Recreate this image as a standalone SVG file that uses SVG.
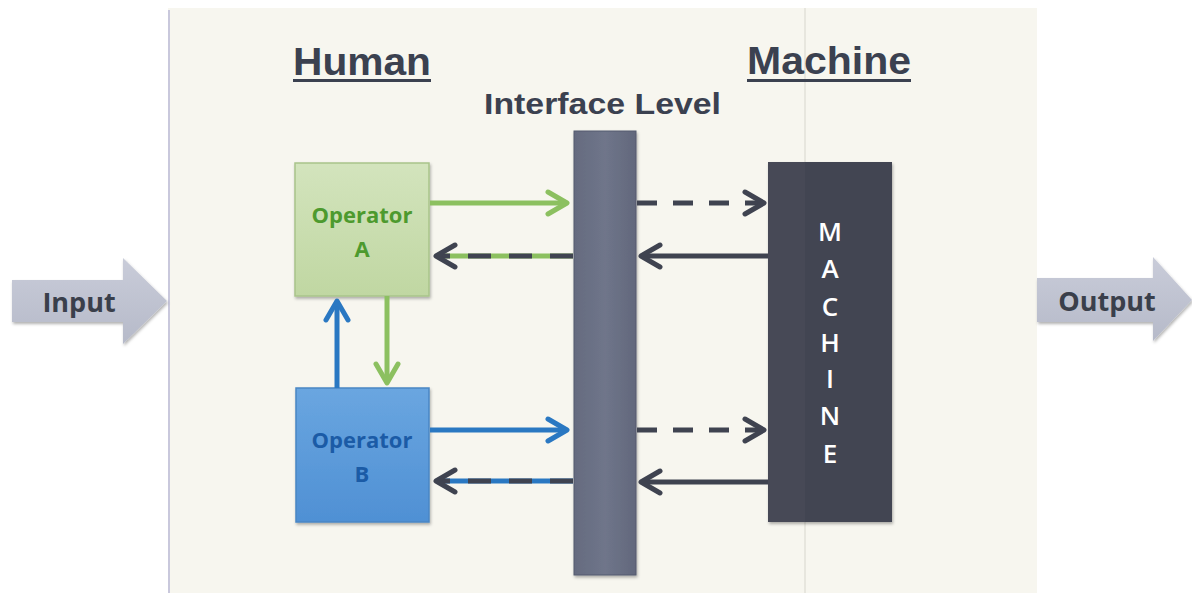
<svg xmlns="http://www.w3.org/2000/svg" width="1192" height="595" viewBox="0 0 1192 595">
  <style>
    .hdr { font-family: "Liberation Sans", Arial, sans-serif; font-weight: bold; fill: #3b4150; }
    .op { font-family: "Open Sans", "Noto Sans", sans-serif; font-weight: bold; font-size: 22px; text-anchor: middle; }
    .io { font-family: "Open Sans", "Noto Sans", sans-serif; font-weight: bold; font-size: 27px; fill: #3a3f4b; text-anchor: middle; }
    .mach { font-family: "Open Sans", "Noto Sans", sans-serif; font-weight: 600; font-size: 26px; fill: #ffffff; text-anchor: middle; }
    .ln { fill: none; stroke-width: 5; }
    .green { stroke: #8cc060; }
    .blue { stroke: #2a78c2; }
    .dark { stroke: #3f4350; }
  </style>
  <defs>
    <linearGradient id="gA" x1="0" y1="0" x2="0" y2="1">
      <stop offset="0" stop-color="#d3e4bd"/>
      <stop offset="1" stop-color="#c0d7a2"/>
    </linearGradient>
    <linearGradient id="gB" x1="0" y1="0" x2="0" y2="1">
      <stop offset="0" stop-color="#6aa6e0"/>
      <stop offset="1" stop-color="#4f90d4"/>
    </linearGradient>
    <linearGradient id="gBar" x1="0" y1="0" x2="1" y2="0">
      <stop offset="0" stop-color="#656b7f"/>
      <stop offset="0.5" stop-color="#6f758a"/>
      <stop offset="1" stop-color="#62687c"/>
    </linearGradient>
    <linearGradient id="gIO" x1="0" y1="0" x2="0" y2="1">
      <stop offset="0" stop-color="#c9ccd9"/>
      <stop offset="1" stop-color="#b6bac9"/>
    </linearGradient>
    <filter id="sh" x="-10%" y="-10%" width="130%" height="130%">
      <feDropShadow dx="1" dy="2" stdDeviation="1.5" flood-color="#000000" flood-opacity="0.3"/>
    </filter>
    <marker id="mGreen" viewBox="-24 -14 28 28" refX="0" refY="0" markerWidth="28" markerHeight="28" markerUnits="userSpaceOnUse" orient="auto">
      <path d="M-19,-11 L0,0 L-19,11" fill="none" stroke="#8cc060" stroke-width="5" stroke-linecap="round" stroke-linejoin="round"/>
    </marker>
    <marker id="mBlue" viewBox="-24 -14 28 28" refX="0" refY="0" markerWidth="28" markerHeight="28" markerUnits="userSpaceOnUse" orient="auto">
      <path d="M-19,-11 L0,0 L-19,11" fill="none" stroke="#2a78c2" stroke-width="5" stroke-linecap="round" stroke-linejoin="round"/>
    </marker>
    <marker id="mDark" viewBox="-24 -14 28 28" refX="0" refY="0" markerWidth="28" markerHeight="28" markerUnits="userSpaceOnUse" orient="auto">
      <path d="M-19,-11 L0,0 L-19,11" fill="none" stroke="#3f4350" stroke-width="5" stroke-linecap="round" stroke-linejoin="round"/>
    </marker>
  </defs>

  <!-- page -->
  <rect x="0" y="0" width="1192" height="595" fill="#ffffff"/>
  <rect x="168" y="8" width="869" height="585" fill="#f7f6ef"/>
  <line x1="169" y1="10" x2="169" y2="593" stroke="#c9c8dc" stroke-width="2"/>
  <line x1="805" y1="8" x2="805" y2="593" stroke="#e2e1d8" stroke-width="1.5"/>

  <!-- titles -->
  <g id="title-human">
    <text class="hdr" x="293" y="75" font-size="39" textLength="138" lengthAdjust="spacingAndGlyphs">Human</text>
    <rect x="293" y="79" width="138" height="3" fill="#3b4150"/>
  </g>
  <g id="title-machine">
    <text class="hdr" x="747" y="74" font-size="39" textLength="164" lengthAdjust="spacingAndGlyphs">Machine</text>
    <rect x="747" y="79" width="164" height="3" fill="#3b4150"/>
  </g>
  <g id="title-interface">
    <text class="hdr" x="484" y="114" font-size="30" textLength="237" lengthAdjust="spacingAndGlyphs">Interface Level</text>
  </g>

  <!-- input / output -->
  <g id="input">
    <path d="M12,280 H123 V258 L167,301 L123,344 V322 H12 Z" fill="url(#gIO)" filter="url(#sh)"/>
    <text class="io" x="79" y="312">Input</text>
  </g>
  <g id="output">
    <path d="M1037,278 H1153 V257 L1192,300 L1153,341 V322 H1037 Z" fill="url(#gIO)" filter="url(#sh)"/>
    <text class="io" x="1107" y="311">Output</text>
  </g>

  <!-- nodes -->
  <g id="operator-a">
    <rect x="295" y="163" width="134" height="133" fill="url(#gA)" stroke="#a9c48a" stroke-width="1.5" filter="url(#sh)"/>
    <text class="op" x="362" y="223" fill="#4d9a2e">Operator</text>
    <text class="op" x="362" y="257" fill="#4d9a2e">A</text>
  </g>
  <g id="operator-b">
    <rect x="296" y="388" width="133" height="134" fill="url(#gB)" stroke="#4a86c4" stroke-width="1.5" filter="url(#sh)"/>
    <text class="op" x="362" y="448" fill="#1b5ba6">Operator</text>
    <text class="op" x="362" y="482" fill="#1b5ba6">B</text>
  </g>
  <g id="interface-bar">
    <rect x="574" y="131" width="62" height="444" fill="url(#gBar)" stroke="#555b6e" stroke-width="1" filter="url(#sh)"/>
  </g>
  <g id="machine">
    <rect x="768" y="162" width="124" height="360" fill="#474a57" filter="url(#sh)"/>
    <rect x="805" y="162" width="87" height="360" fill="#424552"/>
    <text class="mach" x="830" y="241">M</text>
    <text class="mach" x="830" y="278">A</text>
    <text class="mach" x="830" y="316">C</text>
    <text class="mach" x="830" y="352">H</text>
    <text class="mach" x="830" y="388">I</text>
    <text class="mach" x="830" y="425">N</text>
    <text class="mach" x="830" y="463">E</text>
  </g>

  <!-- connectors -->
  <g id="connectors">
    <!-- operator A <-> interface -->
    <line class="ln green" x1="430" y1="203" x2="567" y2="203" marker-end="url(#mGreen)"/>
    <line class="ln green" x1="573" y1="256" x2="440" y2="256"/>
    <line class="ln dark" x1="573" y1="256" x2="436" y2="256" stroke-dasharray="23 18" marker-end="url(#mDark)"/>
    <!-- operator B <-> interface -->
    <line class="ln blue" x1="430" y1="430" x2="567" y2="430" marker-end="url(#mBlue)"/>
    <line class="ln blue" x1="573" y1="481" x2="440" y2="481" stroke-width="4"/>
    <line class="ln dark" x1="573" y1="481" x2="436" y2="481" stroke-dasharray="23 18" marker-end="url(#mDark)"/>
    <!-- interface <-> machine -->
    <line class="ln dark" x1="637" y1="203" x2="764" y2="203" stroke-dasharray="20 16" marker-end="url(#mDark)"/>
    <line class="ln dark" x1="768" y1="256" x2="641" y2="256" marker-end="url(#mDark)"/>
    <line class="ln dark" x1="637" y1="430" x2="764" y2="430" stroke-dasharray="20 16" marker-end="url(#mDark)"/>
    <line class="ln dark" x1="768" y1="482" x2="641" y2="482" marker-end="url(#mDark)"/>
    <!-- between operators -->
    <line class="ln blue" x1="337" y1="388" x2="337" y2="301" marker-end="url(#mBlue)"/>
    <line class="ln green" x1="387" y1="296" x2="387" y2="383" marker-end="url(#mGreen)"/>
  </g>
</svg>
